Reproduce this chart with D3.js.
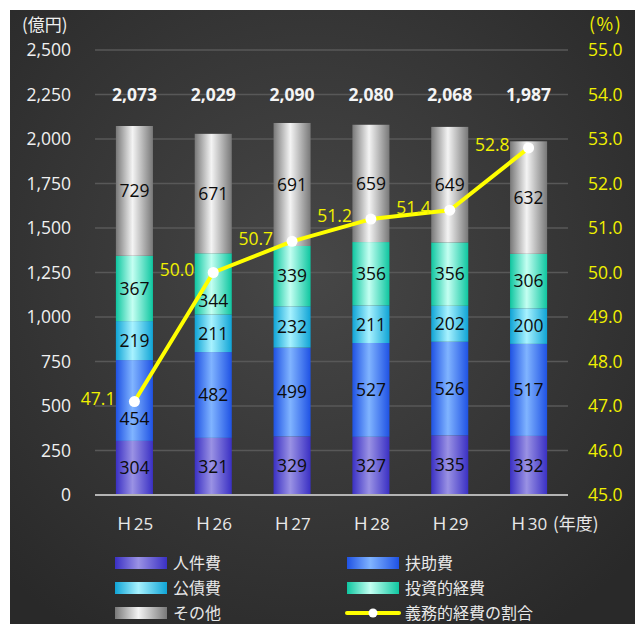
<!DOCTYPE html>
<html>
<head>
<meta charset="utf-8">
<script src="https://cdn.jsdelivr.net/npm/d3@7"></script>
<style>
  html, body { margin: 0; padding: 0; background: #ffffff; }
  svg { display: block; }
</style>
</head>
<body>
<svg id="chart" width="635" height="624"></svg>
<script>
// Fiscal years
const years = ["Ｈ25", "Ｈ26", "Ｈ27", "Ｈ28", "Ｈ29", "Ｈ30"];

// Expenditure by type (億円), stacked bottom to top
const personnel  = [304, 321, 329, 327, 335, 332];   // 人件費
const assistance = [454, 482, 499, 527, 526, 517];   // 扶助費
const debt       = [219, 211, 232, 211, 202, 200];   // 公債費
const investment = [367, 344, 339, 356, 356, 306];   // 投資的経費
const other      = [729, 671, 691, 659, 649, 632];   // その他

// Share of mandatory expenditure (%)
const ratio = [47.1, 50.0, 50.7, 51.2, 51.4, 52.8];

// Axis ticks
const leftTicks  = [0, 250, 500, 750, 1000, 1250, 1500, 1750, 2000, 2250, 2500];
const rightTicks = [45, 46, 47, 48, 49, 50, 51, 52, 53, 54, 55];

const seriesNames = ["人件費", "扶助費", "公債費", "投資的経費", "その他"];
const seriesValues = [personnel, assistance, debt, investment, other];
const lineName = "義務的経費の割合";

const NUM = "'Open Sans', 'Noto Sans', sans-serif";
const JP = "'Noto Sans CJK JP', sans-serif";

// Horizontal "cylinder" shading: edge colour, highlight colour
const shades = [
  ["#3a30c4", "#9a92e4"],
  ["#1f52e4", "#80b4ff"],
  ["#0fa4d6", "#a8f2ff"],
  ["#0ec6a0", "#c4fff2"],
  ["#787878", "#f4f4f4"]
];

const svg = d3.select("#chart");
const W = 635, H = 624;

const defs = svg.append("defs");

// Panel background
const bg = defs.append("radialGradient").attr("id", "bg")
  .attr("cx", "48%").attr("cy", "42%").attr("r", "70%");
bg.append("stop").attr("offset", "0%").attr("stop-color", "#474747");
bg.append("stop").attr("offset", "100%").attr("stop-color", "#292929");

shades.forEach((s, i) => {
  const g = defs.append("linearGradient").attr("id", "shade" + i)
    .attr("x1", "0%").attr("x2", "100%").attr("y1", "0%").attr("y2", "0%");
  g.append("stop").attr("offset", "0%").attr("stop-color", s[0]);
  g.append("stop").attr("offset", "45%").attr("stop-color", s[1]);
  g.append("stop").attr("offset", "100%").attr("stop-color", s[0]);
});

svg.append("rect").attr("x", 10).attr("y", 10)
  .attr("width", W - 10).attr("height", H - 10)
  .attr("fill", "url(#bg)");

// Plot region
const plotL = 95, plotR = 568, plotT = 50, plotB = 495;

const x = d3.scaleBand().domain(years).range([plotL, plotR]).paddingInner(0.53).paddingOuter(0.265);
const y = d3.scaleLinear().domain([0, 2500]).range([plotB, plotT]);
const y2 = d3.scaleLinear().domain([45, 55]).range([plotB, plotT]);
const cx = d => x(d) + x.bandwidth() / 2;

// Gridlines
svg.append("g").selectAll("line")
  .data(leftTicks.filter(d => d > 0))
  .join("line")
  .attr("x1", plotL).attr("x2", plotR)
  .attr("y1", d => y(d)).attr("y2", d => y(d))
  .attr("stroke", "#585858").attr("stroke-width", 1.5);

// Left axis labels
const leftAxis = d3.axisLeft(y).tickValues(leftTicks).tickSize(0).tickPadding(0)
  .tickFormat(d3.format(","));
const gl = svg.append("g").attr("transform", "translate(71,0)").call(leftAxis);
gl.select(".domain").remove();
gl.selectAll("text").attr("font-size", 17.5)
  .attr("fill", "#f0f0f0").attr("font-family", NUM);

// Right axis labels
const rightAxis = d3.axisRight(y2).tickValues(rightTicks).tickSize(0).tickPadding(0)
  .tickFormat(d3.format(".1f"));
const gr = svg.append("g").attr("transform", "translate(588,0)").call(rightAxis);
gr.select(".domain").remove();
gr.selectAll("text").attr("font-size", 17.5)
  .attr("fill", "#f0f000").attr("font-family", NUM);

// Unit labels
svg.append("text").attr("x", 22).attr("y", 25).attr("dy", "0.36em")
  .attr("font-family", JP).attr("font-size", 17).attr("fill", "#f0f0f0").text("(億円)");
svg.append("text").attr("x", 589).attr("y", 25).attr("dy", "0.36em")
  .attr("font-family", JP).attr("font-size", 18).attr("letter-spacing", 1.5)
  .attr("fill", "#f0f000").text("(%)");

// Stacked bars
const stackData = years.map((yr, i) => {
  const o = { year: yr };
  seriesNames.forEach((n, k) => { o[n] = seriesValues[k][i]; });
  return o;
});
const stacked = d3.stack().keys(seriesNames)(stackData);

stacked.forEach((layer, k) => {
  svg.append("g").selectAll("rect")
    .data(layer)
    .join("rect")
    .attr("x", d => x(d.data.year))
    .attr("width", x.bandwidth())
    .attr("y", d => y(d[1]))
    .attr("height", d => y(d[0]) - y(d[1]))
    .attr("fill", `url(#shade${k})`);
});

// Baseline
svg.append("line").attr("x1", plotL).attr("x2", plotR)
  .attr("y1", plotB).attr("y2", plotB)
  .attr("stroke", "#b4b4b4").attr("stroke-width", 2);

// Segment value labels (moved below the line marker when they would collide)
stacked.forEach((layer, k) => {
  svg.append("g").selectAll("text")
    .data(layer)
    .join("text")
    .attr("x", d => cx(d.data.year))
    .attr("y", (d, i) => {
      const my = (y(d[0]) + y(d[1])) / 2;
      const py = y2(ratio[i]);
      return Math.abs(my - py) < 14 ? Math.max(my, py) + 17 : my;
    })
    .attr("dy", "0.36em")
    .attr("text-anchor", "middle")
    .attr("font-family", NUM)
    .attr("font-size", 17.5)
    .attr("fill", "#0c0c0c")
    .text(d => d[1] - d[0]);
});

// Totals above bars
const totals = stackData.map(d => d3.sum(seriesNames, n => d[n]));
svg.append("g").selectAll("text")
  .data(years)
  .join("text")
  .attr("x", d => cx(d))
  .attr("y", 95).attr("dy", "0.36em")
  .attr("text-anchor", "middle")
  .attr("font-family", NUM)
  .attr("font-size", 17.5).attr("font-weight", "bold")
  .attr("fill", "#f4f4f4")
  .text((d, i) => d3.format(",")(totals[i]));

// Ratio line
const line = d3.line()
  .x((d, i) => cx(years[i]))
  .y(d => y2(d));
svg.append("path").datum(ratio)
  .attr("d", line)
  .attr("fill", "none").attr("stroke", "#ffff00")
  .attr("stroke-width", 4).attr("stroke-linejoin", "round");

svg.append("g").selectAll("circle")
  .data(ratio)
  .join("circle")
  .attr("cx", (d, i) => cx(years[i]))
  .attr("cy", d => y2(d))
  .attr("r", 5.5)
  .attr("fill", "#ffffff");

svg.append("g").selectAll("text")
  .data(ratio)
  .join("text")
  .attr("x", (d, i) => cx(years[i]) - 19)
  .attr("y", d => y2(d) - 3)
  .attr("dy", "0.36em")
  .attr("text-anchor", "end")
  .attr("font-family", NUM)
  .attr("font-size", 17.5)
  .attr("fill", "#f0f000")
  .text(d => d.toFixed(1));

// Category labels: full-width era letter followed by the year number
const cat = svg.append("g").selectAll("text")
  .data(years)
  .join("text")
  .attr("x", d => cx(d))
  .attr("y", 524).attr("dy", "0.36em")
  .attr("text-anchor", "middle")
  .attr("font-size", 17)
  .attr("fill", "#e8e8e8");
cat.append("tspan").attr("font-family", JP).text(d => d.slice(0, 1));
cat.append("tspan").attr("font-family", NUM).attr("dx", 1).text(d => d.slice(1));

svg.append("text")
  .attr("x", 553).attr("y", 524).attr("dy", "0.36em")
  .attr("font-family", JP)
  .attr("font-size", 17).attr("fill", "#e8e8e8")
  .text("(年度)");

// Legend
const legendItems = [
  { name: "人件費", k: 0, col: 0, row: 0 },
  { name: "扶助費", k: 1, col: 1, row: 0 },
  { name: "公債費", k: 2, col: 0, row: 1 },
  { name: "投資的経費", k: 3, col: 1, row: 1 },
  { name: "その他", k: 4, col: 0, row: 2 },
  { name: lineName, k: -1, col: 1, row: 2 }
];
const legX = [115, 347], legY = [563, 588, 613];
const lg = svg.append("g");
legendItems.forEach(it => {
  const lx = legX[it.col], ly = legY[it.row];
  if (it.k >= 0) {
    lg.append("rect").attr("x", lx).attr("y", ly - 6).attr("width", 52).attr("height", 12)
      .attr("fill", `url(#shade${it.k})`);
  } else {
    lg.append("line").attr("x1", lx).attr("x2", lx + 52).attr("y1", ly).attr("y2", ly)
      .attr("stroke", "#ffff00").attr("stroke-width", 4).attr("stroke-linecap", "round");
    lg.append("circle").attr("cx", lx + 26).attr("cy", ly).attr("r", 4.5).attr("fill", "#ffffff");
  }
  lg.append("text")
    .attr("x", lx + 58).attr("y", ly).attr("dy", "0.36em")
    .attr("font-family", JP)
    .attr("font-size", 16).attr("fill", "#e8e8e8")
    .text(it.name);
});
</script>
</body>
</html>
